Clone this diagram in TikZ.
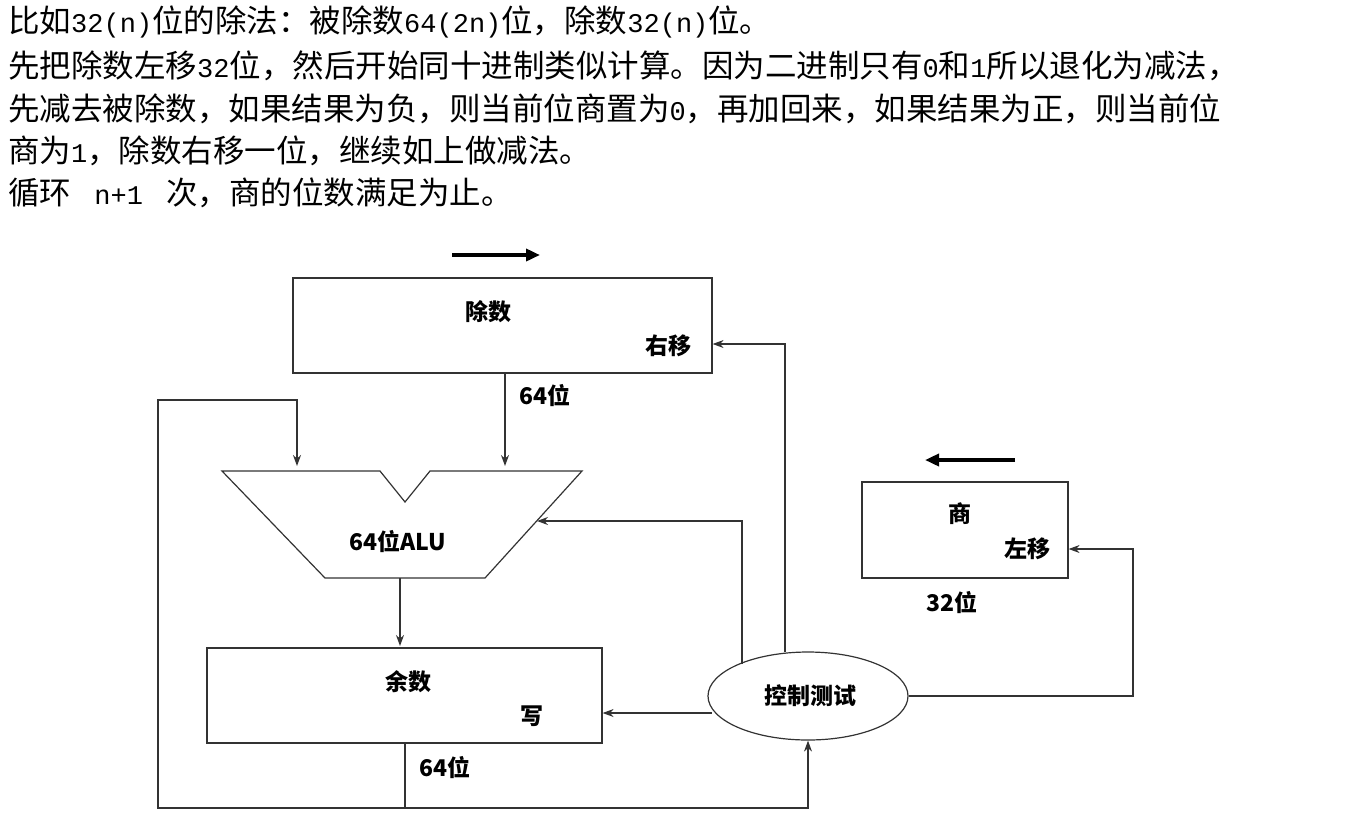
\documentclass[tikz,border=0pt]{standalone}
\usepackage{fontspec}
\setmainfont{Liberation Serif}
\newfontfamily\cjk{Noto Sans CJK SC}
\newfontfamily\mono{Liberation Mono}
\usetikzlibrary{arrows.meta,shapes.geometric}
\newcommand{\m}[1]{{\fontsize{27}{27}\selectfont\mono #1}}
\begin{document}
\begin{tikzpicture}[x=1pt,y=-1pt,
  line/.style={draw=black!80,line width=1.2pt},
  arr/.style={line,-{Stealth[length=11pt,width=8pt]}},
  big/.style={line width=3.5pt,-{Triangle[length=14pt,width=12pt]}},
  lbl/.style={font=\fontsize{23}{23}\selectfont\bfseries\cjk,inner sep=0pt}]
\useasboundingbox (0,0) rectangle (1348,823);
\begin{scope}[every node/.style={anchor=west,inner sep=0pt,font=\fontsize{31.5}{31.5}\selectfont\cjk}]
\node (t1) at (8,22) {比如\m{32(n)}位的除法：被除数\m{64(2n)}位，除数\m{32(n)}位。};
\node (t2) at (8,66) {先把除数左移\m{32}位，然后开始同十进制类似计算。因为二进制只有\m{0}和\m{1}所以退化为减法，};
\node (t3) at (8,109) {先减去被除数，如果结果为负，则当前位商置为\m{0}，再加回来，如果结果为正，则当前位};
\node (t4) at (8,151) {商为\m{1}，除数右移一位，继续如上做减法。};
\node (t5) at (8,193) {循环 \m{ n+1 } 次，商的位数满足为止。};
\end{scope}
% boxes
\node[line,minimum width=419pt,minimum height=95pt,inner sep=0pt] (div) at (502.5,325.5) {};
\node[lbl] at (488,312) {除数};
\node[lbl] at (668,346) {右移};
\node[lbl] at (545,396) {64位};
\node[line,minimum width=395pt,minimum height=95pt,inner sep=0pt] (rem) at (404.5,695.5) {};
\node[lbl] at (408,682) {余数};
\node[lbl] at (532,716) {写};
\node[lbl] at (445,768) {64位};
\node[line,minimum width=206pt,minimum height=96pt,inner sep=0pt] (quo) at (965,530) {};
\node[lbl] at (960,514) {商};
\node[lbl] at (1027,549) {左移};
\node[lbl] at (952,603) {32位};
\node[line,ellipse,minimum width=200pt,minimum height=88pt,inner sep=0pt] (ctl) at (808,696) {};
\node[lbl] at (810,696) {控制测试};
% ALU
\draw[line] (222,471) -- (380,471) -- (405,502) -- (430,471) -- (582,471) -- (485,578) -- (325,578) -- cycle;
\node[lbl] (alu) at (398,542) {64位ALU};
\coordinate (aluR) at (537,521);
% thick arrows
\coordinate (a1) at (452,255); \coordinate (a2) at (540,255);
\draw[big] (a1) -- (a2);
\coordinate (b1) at (1015,460); \coordinate (b2) at (925,460);
\draw[big] (b1) -- (b2);
% connectors
\draw[arr] (505,373) -- (505,466);
\draw[arr] (400,578) -- (400,646);
\draw[arr] (405,743) -- (405,808) -- (158,808) -- (158,400) -- (297,400) -- (297,466);
\draw[arr] (405,808) -- (808,808) -- (ctl.south);
\draw[arr] (712,713) -- (rem.east |- 0,713);
\draw[arr] (742,664) -- (742,521) -- (aluR);
\draw[arr] (785,652) -- (785,344) -- (div.east |- 0,344);
\draw[arr] (ctl.east) -- (1133,696) -- (1133,549) -- (quo.east |- 0,549);
\end{tikzpicture}
\end{document}
